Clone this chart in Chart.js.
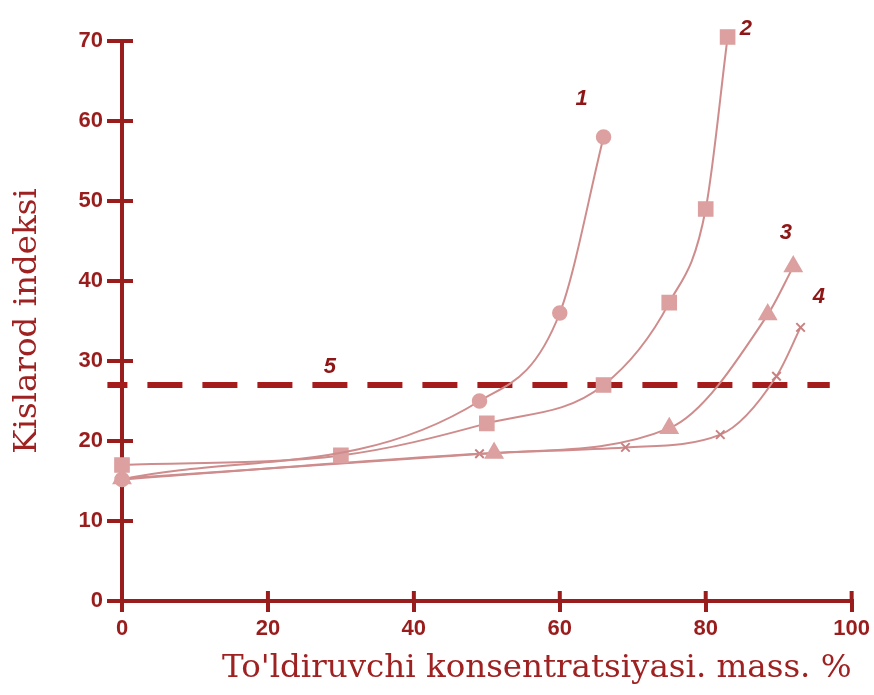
<!DOCTYPE html>
<html>
<head>
<meta charset="utf-8">
<script src="https://cdn.jsdelivr.net/npm/chart.js@4.4.1/dist/chart.umd.min.js"></script>
<style>
  html, body { margin: 0; padding: 0; background: #fff; }
  #wrap { width: 874px; height: 695px; }
</style>
</head>
<body>
<div id="wrap"><canvas id="chart" width="874" height="695"></canvas></div>
<script>
// concentration (x) and index (y) for each curve
const x1 = [0, 49, 60, 66];
const y1 = [15.2, 25, 36, 58];
const x2 = [0, 30, 50, 66, 75, 80, 83];
const y2 = [17, 18.2, 22.2, 27, 37.3, 49, 70.5];
const x3 = [0, 51, 75, 88.5, 92];
const y3 = [15.3, 18.5, 21.6, 35.8, 41.8];
const x4 = [0, 49, 69, 82, 89.7, 93];
const y4 = [15.2, 18.4, 19.2, 20.8, 28.1, 34.2];
const x5 = [-2, 97];
const y5 = [27, 27];

const xTicks = [0, 20, 40, 60, 80, 100];
const yTicks = [0, 10, 20, 30, 40, 50, 60, 70];

// curve numbers, placed in data units
const curveNames = ['1', '2', '3', '4', '5'];
const nameX = [63, 85.5, 91, 95.5, 28.5];
const nameY = [62.8, 71.5, 46, 38, 29.2];

const axisColor = '#9a1d1d';
const lineColor = '#cf8c8c';
const markColor = '#dca0a0';

const pts = (xs, ys) => xs.map((x, i) => ({ x: x, y: ys[i] }));

function curve(xs, ys, style, r) {
  return {
    data: pts(xs, ys),
    borderColor: lineColor,
    borderWidth: 2,
    backgroundColor: markColor,
    pointBackgroundColor: markColor,
    pointBorderColor: markColor,
    pointBorderWidth: 1.5,
    pointStyle: style,
    pointRadius: r,
    cubicInterpolationMode: 'monotone',
    clip: false
  };
}

const set4 = curve(x4, y4, 'crossRot', 6);
set4.pointBorderColor = '#c98080';
set4.pointBorderWidth = 2;

// short ticks inside the plot too, so they cross the axis lines
const crossTicks = {
  id: 'crossTicks',
  afterDraw(chart) {
    const ctx = chart.ctx;
    const xs = chart.scales.x, ys = chart.scales.y;
    const area = chart.chartArea;
    ctx.save();
    ctx.strokeStyle = axisColor;
    ctx.lineWidth = 4;
    yTicks.forEach(v => {
      const py = ys.getPixelForValue(v);
      ctx.beginPath();
      ctx.moveTo(area.left, py);
      ctx.lineTo(area.left + 11, py);
      ctx.stroke();
    });
    xTicks.forEach(v => {
      const px = xs.getPixelForValue(v);
      ctx.beginPath();
      ctx.moveTo(px, area.bottom);
      ctx.lineTo(px, area.bottom - 10);
      ctx.stroke();
    });
    // curve numbers
    ctx.fillStyle = '#8e1616';
    ctx.font = 'italic bold 22px "Liberation Sans", Arial, sans-serif';
    ctx.textAlign = 'center';
    ctx.textBaseline = 'middle';
    curveNames.forEach((n, i) => {
      ctx.fillText(n, xs.getPixelForValue(nameX[i]), ys.getPixelForValue(nameY[i]));
    });
    ctx.restore();
  }
};

new Chart(document.getElementById('chart'), {
  type: 'line',
  data: {
    datasets: [
      curve(x1, y1, 'circle', 7),
      curve(x2, y2, 'rect', 10),
      curve(x3, y3, 'triangle', 10),
      set4,
      {
        data: pts(x5, y5),
        borderColor: '#a41c1c',
        borderWidth: 6,
        borderDash: [35, 20],
        borderDashOffset: 15,
        pointRadius: 0,
        clip: false
      }
    ]
  },
  options: {
    responsive: false,
    animation: false,
    layout: { padding: { left: 6, right: 21, top: 41, bottom: 2 } },
    plugins: { legend: { display: false }, tooltip: { enabled: false } },
    scales: {
      x: {
        type: 'linear',
        min: 0,
        max: 100,
        afterBuildTicks: s => { s.ticks = xTicks.map(v => ({ value: v })); },
        afterFit: s => { s.height = 92; },
        border: { color: axisColor, width: 4 },
        grid: { drawOnChartArea: false, color: axisColor, lineWidth: 4, tickLength: 11 },
        ticks: {
          color: axisColor,
          padding: 4,
          font: { family: '"Liberation Sans", Arial, sans-serif', size: 22, weight: 'bold' }
        },
        title: {
          display: true,
          align: 'end',
          text: "To'ldiruvchi konsentratsiyasi. mass. %",
          color: '#9e2222',
          padding: { top: 0, bottom: 5 },
          font: { family: '"DejaVu Serif", "Liberation Serif", serif', size: 32.5 }
        }
      },
      y: {
        min: 0,
        max: 70,
        afterBuildTicks: s => { s.ticks = yTicks.map(v => ({ value: v })); },
        afterFit: s => { s.width = 116; },
        border: { color: axisColor, width: 4 },
        grid: { drawOnChartArea: false, color: axisColor, lineWidth: 4, tickLength: 15 },
        ticks: {
          color: axisColor,
          padding: 4,
          font: { family: '"Liberation Sans", Arial, sans-serif', size: 22, weight: 'bold' }
        },
        title: {
          display: true,
          text: 'Kislarod indeksi',
          color: '#9e2222',
          padding: { top: 2, bottom: 0 },
          font: { family: '"DejaVu Serif", "Liberation Serif", serif', size: 32.5 }
        }
      }
    }
  },
  plugins: [crossTicks]
});
</script>
</body>
</html>
